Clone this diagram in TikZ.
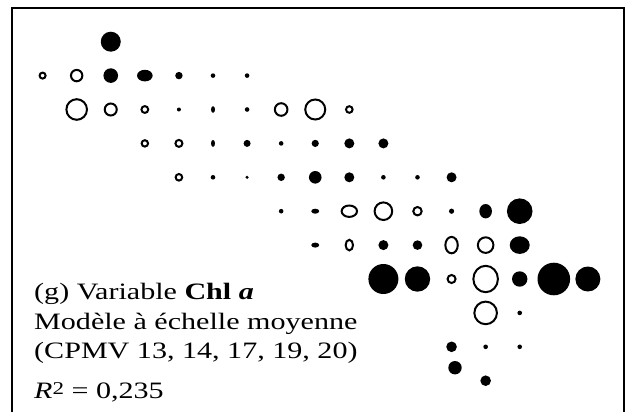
\documentclass[tikz,border=0pt]{standalone}
\usepackage{fontspec}
\setmainfont{Liberation Serif}
\usepackage{graphicx}
\usepackage{tikz}
\def\thickness{2pt}
\def\colw{34.08}
\def\rowh{33.9}
\def\xo{42.6}
\def\yo{41.7}
\def\txtstretch{1.28}
\tikzstyle{fulldot}=[fill=black]
\tikzstyle{ringdot}=[draw=black, line width=\thickness]
\tikzstyle{frame}=[draw=black, line width=2pt]
\tikzstyle{caption}=[anchor=base west, inner sep=0pt, font=\fontsize{23.5}{27}\selectfont]
\newcommand{\wide}[1]{\scalebox{\txtstretch}[1]{#1}}

\begin{document}
\begin{tikzpicture}[x=1pt, y=-1pt]
\useasboundingbox (0,0) rectangle (631,412);
\draw[frame] (12,412) -- (12,8) -- (624.3,8) -- (624.3,412);
% filled dots: column/row/x radius/y radius
\foreach \i/\j/\rx/\ry in {2/0/10/10, 2/1/7.3/7.3, 3/1/7.8/5.8, 4/1/3.7/3.7, 5/1/2.3/2.3,
  6/1/2.3/2.3, 4/2/2/2, 5/2/2/3.3, 6/2/2.3/2.3, 5/3/2/3.5, 6/3/3.5/3.5, 7/3/2.3/2.3,
  8/3/3.6/3.6, 9/3/5/5, 10/3/5/5, 5/4/2.3/2.3, 6/4/1.7/1.7, 7/4/3.7/3.7, 8/4/6.3/6.3,
  9/4/5/5, 10/4/2.3/2.3, 11/4/2.3/2.3, 12/4/5/5, 7/5/2.3/2.3, 8/5/4/2.5, 12/5/2.6/2.6,
  13/5/6.3/7.2, 14/5/12.8/12.8, 8/6/4/2.5, 10/6/5/5, 11/6/4.8/4.8, 14/6/10/8.8,
  10/7/15/15, 11/7/12.7/12.7, 14/7/7.7/7.7, 15/7/16.3/16.3, 16/7/12.5/12.5,
  14/8/2.3/2.3, 12/9/5.3/5.3, 13/9/2.3/2.3, 14/9/2.3/2.3, 13/10/5.3/5.3}
  \fill[fulldot] ({\xo+\i*\colw},{\yo+\j*\rowh}) ellipse [x radius=\rx pt, y radius=\ry pt];
\fill[fulldot] (455,367.7) circle [radius=6.7pt];
% open rings
\foreach \i/\j/\rx/\ry in {0/1/3/3, 1/1/5.7/5.7, 1/2/10.3/10.3, 2/2/6/6,
  3/2/3.4/3.4, 7/2/6.3/6.3, 8/2/10/10, 9/2/3.3/3.3, 3/3/3.2/3.2, 4/3/3.5/3.5,
  4/4/3.3/3.3, 9/5/7.7/5.7, 10/5/8.8/8.8, 11/5/4.2/4.2, 9/6/3.7/5.3, 12/6/6.2/8.2,
  13/6/7.8/7.8, 12/7/4/4, 13/7/12.3/13.2, 13/8/11.3/11.3}
  \draw[ringdot] ({\xo+\i*\colw},{\yo+\j*\rowh}) ellipse [x radius=\rx pt, y radius=\ry pt];
\node[caption] (title) at (34,299.3) {\wide{(g) Variable \textbf{Chl \textit{a}}}};
\node[caption] (model) at (34,329.3) {\wide{Modèle à échelle moyenne}};
\node[caption] (cpmv) at (34,358.5) {\wide{(CPMV 13, 14, 17, 19, 20)}};
\node[caption] (rsq) at (34,398) {\wide{\textit{R}\raisebox{4pt}{\fontsize{18}{18}\selectfont 2} = 0,235}};
\end{tikzpicture}
\end{document}
